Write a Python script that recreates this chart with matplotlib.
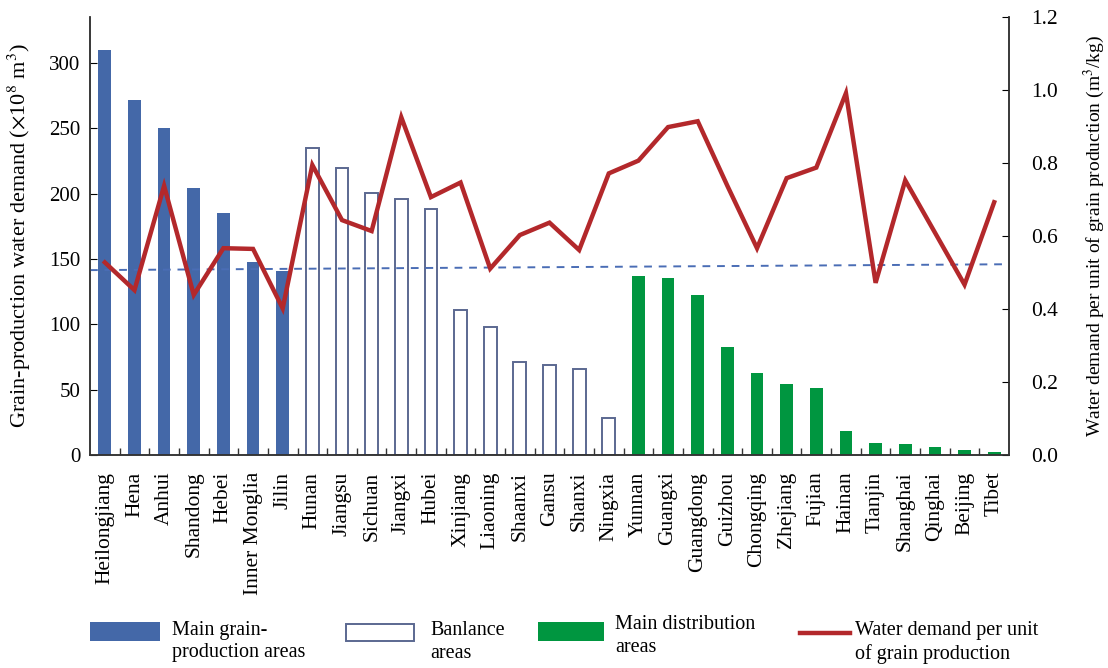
import matplotlib.pyplot as plt
from matplotlib.patches import Rectangle
from matplotlib.lines import Line2D

plt.rcParams['font.family'] = ['Liberation Serif', 'DejaVu Serif']
plt.rcParams['mathtext.fontset'] = 'stix'

# Provinces grouped by region type
main_prod = ["Heilongjiang", "Hena", "Anhui", "Shandong", "Hebei", "Inner Monglia", "Jilin"]
balance = ["Hunan", "Jiangsu", "Sichuan", "Jiangxi", "Hubei", "Xinjiang", "Liaoning",
           "Shaanxi", "Gansu", "Shanxi", "Ningxia"]
main_dist = ["Yunnan", "Guangxi", "Guangdong", "Guizhou", "Chongqing", "Zhejiang", "Fujian",
             "Hainan", "Tianjin", "Shanghai", "Qinghai", "Beijing", "Tibet"]

# Grain-production water demand (10^8 m3)
demand_prod = [310, 272, 250.5, 204.5, 185.5, 147.5, 141]
demand_bal = [235, 220, 200.5, 196, 188, 111, 98, 71.5, 69, 65.8, 28.3]
demand_dist = [137, 135.3, 122.7, 82.7, 62.5, 54.4, 51, 18.6, 9.2, 8.7, 6.4, 3.8, 2.5]

# Water demand per unit of grain production (m3/kg)
per_unit = [0.528, 0.452, 0.738, 0.439, 0.567, 0.565, 0.402,
            0.795, 0.644, 0.614, 0.926, 0.707, 0.747, 0.511, 0.603, 0.637, 0.562, 0.772,
            0.807, 0.899, 0.915, 0.738, 0.567, 0.759, 0.788, 0.992, 0.472, 0.753, 0.610,
            0.467, 0.693]

# reference line (left axis units) at both ends of the x range
ref_line = [141.5, 146.0]

names = main_prod + balance + main_dist
n = len(names)
x_prod = list(range(0, len(main_prod)))
x_bal = list(range(len(main_prod), len(main_prod) + len(balance)))
x_dist = list(range(len(main_prod) + len(balance), n))

blue = '#4468a8'
green = '#009640'
edge = '#5b6890'
red = '#b3282b'

fig = plt.figure(figsize=(11.08, 6.68), dpi=100)
W, H = 1108, 668
ax = fig.add_axes([90 / W, 1 - 455 / H, (1009 - 90) / W, (455 - 17.3) / H])
ax2 = ax.twinx()

bw = 0.43
ax.bar(x_prod, demand_prod, width=bw, color=blue, zorder=2)
ax.bar(x_bal, demand_bal, width=bw, facecolor='white', edgecolor=edge, linewidth=1.4, zorder=2)
ax.bar(x_dist, demand_dist, width=bw, color=green, zorder=2)

ax.plot([-0.5, n - 0.5], ref_line, color='#4a6db5', linestyle=(0, (4, 3.5)), linewidth=1.4, zorder=3)

ax2.plot(range(n), per_unit, color=red, linewidth=3.2, solid_joinstyle='miter', zorder=4)

ax.set_xlim(-0.5, n - 0.5)
ax.set_ylim(0, 335)
ax2.set_ylim(0, 1.2)
ax.set_yticks([0, 50, 100, 150, 200, 250, 300])
ax2.set_yticks([0.0, 0.2, 0.4, 0.6, 0.8, 1.0, 1.2])
ax2.set_yticklabels(['0.0', '0.2', '0.4', '0.6', '0.8', '1.0', '1.2'])

ax.set_xticks(range(n))
ax.set_xticklabels(names, rotation=90, fontsize=15.5)
ax.tick_params(axis='x', length=0, pad=12)
ax.set_xticks([i + 0.5 for i in range(n - 1)], minor=True)
ax.tick_params(axis='x', which='minor', direction='in', length=5, width=1, color='#333333')
ax.tick_params(axis='y', direction='in', length=5, labelsize=15, pad=7)
ax2.tick_params(axis='y', direction='in', length=5, labelsize=15.5, pad=16)

for a in (ax, ax2):
    a.spines['top'].set_visible(False)
    for s in ('left', 'right', 'bottom'):
        a.spines[s].set_color('#333333')
        a.spines[s].set_linewidth(1.1)
ax2.set_zorder(ax.get_zorder() + 1)
ax2.patch.set_visible(False)

ax.set_ylabel('Grain-production water demand ($\\times$10$^8$ m$^3$)', fontsize=16)
ax.yaxis.set_label_coords(-0.062, 0.5)
ax2.set_ylabel('Water demand per unit of grain production (m$^3$/kg)', fontsize=14)
ax2.yaxis.set_label_coords(1.079, 0.5)

# legend drawn below the axes
def fx(px):
    return px / W


def fy(py):
    return 1 - py / H


fig.add_artist(Rectangle((fx(90), fy(641)), fx(70), 19 / H, facecolor=blue, edgecolor='none'))
fig.add_artist(Rectangle((fx(346), fy(641)), fx(68), 17 / H, facecolor='white',
                         edgecolor=edge, linewidth=1.4))
fig.add_artist(Rectangle((fx(538), fy(641)), fx(66), 19 / H, facecolor=green, edgecolor='none'))
fig.add_artist(Line2D([fx(800), fx(850)], [fy(633), fy(633)], color=red, linewidth=3.2))

legend_text = [(172, 621, "Main grain-\nproduction areas"),
               (430, 621, "Banlance\nareas"),
               (615, 615, "Main distribution\nareas"),
               (855, 621, "Water demand per unit\nof grain production")]
for px, py, txt in legend_text:
    fig.text(fx(px), fy(py), txt, fontsize=14.5, ha='left', va='top', linespacing=1.25)

fig.savefig('out.png', dpi=100, facecolor='white')
